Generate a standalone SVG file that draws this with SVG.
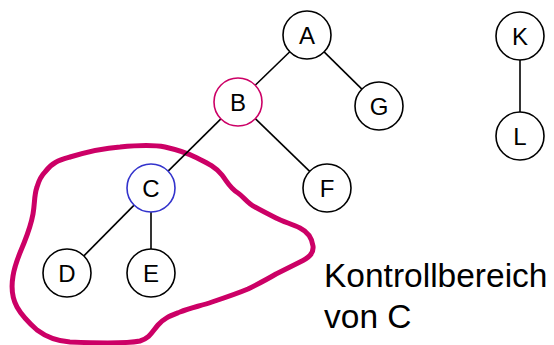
<svg xmlns="http://www.w3.org/2000/svg" width="554" height="345" viewBox="0 0 554 345">
<style>
.n circle{fill:#fff;stroke:#000;stroke-width:1.6}
.n text{font-family:"Liberation Sans",Arial,sans-serif;font-size:24px;text-anchor:middle;fill:#000}
#edges line{stroke:#000;stroke-width:1.6}
.lbl{font-family:"Liberation Sans",Arial,sans-serif;font-size:33.5px;fill:#000}
</style>
<rect width="554" height="345" fill="#fff"/>
<path d="M45,172 C52,162 60,160 70,157 C90,151 105,148 120,147 C140,145 155,145 165,147 C178,150 185,152 195,157 C205,162 215,166 222,175 C228,183 230,188 238,193 C244,197 247,203 255,207 C262,211 268,214 276,218 C284,222 292,224 300,228 C308,232 312,238 313,246 C314,254 308,258 300,262 C292,266 284,270 276,274 C266,280 258,284 248,289 C236,294 224,298 212,302 C200,306 190,308 180,312 C170,316 164,318 158,325 C152,332 150,338 140,341 C125,344 95,343 70,342 C55,341 45,336 37,330 C28,322 22,316 17,307 C12,298 11,288 13,276 C15,263 20,253 24,243 C28,233 31,225 33,214 C35,203 34,195 37,187 C39,180 41,176 45,172 Z" fill="none" stroke="#CC0066" stroke-width="5" stroke-linejoin="round"/>
<g id="edges">
<line x1="289.8" y1="51.7" x2="255.2" y2="85.3"/>
<line x1="324.1" y1="51.9" x2="361.9" y2="89.1"/>
<line x1="220.9" y1="118.9" x2="168.1" y2="171.1"/>
<line x1="255.3" y1="118.7" x2="309.7" y2="171.3"/>
<line x1="134.1" y1="205.1" x2="83.9" y2="255.9"/>
<line x1="151" y1="212" x2="151" y2="249"/>
<line x1="520" y1="60" x2="520" y2="112"/>
</g>
<g id="A" class="n"><circle cx="307" cy="35" r="24"/><text x="307" y="44">A</text></g>
<g id="B" class="n"><circle cx="238" cy="102" r="24" style="stroke:#CC0066"/><text x="238" y="111">B</text></g>
<g id="G" class="n"><circle cx="379" cy="106" r="24"/><text x="379" y="115">G</text></g>
<g id="C" class="n"><circle cx="151" cy="188" r="24" style="stroke:#3333CC"/><text x="151" y="197">C</text></g>
<g id="F" class="n"><circle cx="327" cy="188" r="24"/><text x="327" y="197">F</text></g>
<g id="D" class="n"><circle cx="67" cy="273" r="24"/><text x="67" y="282">D</text></g>
<g id="E" class="n"><circle cx="151" cy="273" r="24"/><text x="151" y="282">E</text></g>
<g id="K" class="n"><circle cx="520" cy="36" r="24"/><text x="520" y="45">K</text></g>
<g id="L" class="n"><circle cx="520" cy="136" r="24"/><text x="520" y="145">L</text></g>
<g id="label">
<text class="lbl" x="324" y="287">Kontrollbereich</text>
<text class="lbl" x="324" y="328">von C</text>
</g>
</svg>
